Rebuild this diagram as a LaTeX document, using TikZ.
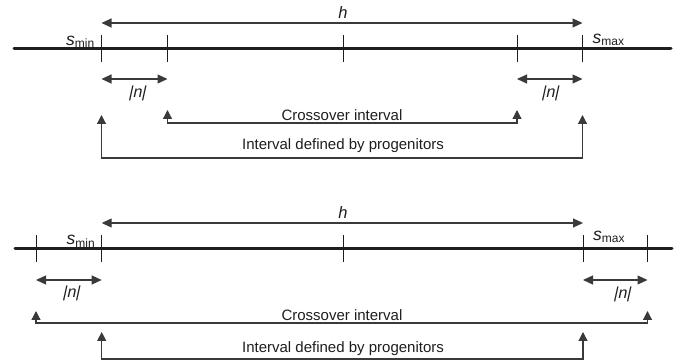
\documentclass[tikz,border=0pt]{standalone}
\usepackage{fontspec}
\setmainfont{Liberation Sans}
\newfontfamily\obliquesans[FakeSlant=0.22]{Liberation Sans}
\usetikzlibrary{arrows.meta}
\definecolor{ink}{HTML}{1E1E1E}
\definecolor{thin}{HTML}{3A3A3A}
\newcommand{\svar}[1]{{\fontsize{17.5}{20}\selectfont\itshape s}\raisebox{-2.5pt}{\fontsize{12}{14}\selectfont #1}}
\newcommand{\absn}{{\obliquesans|n|}}
\begin{document}
\begin{tikzpicture}[x=1pt,y=-1pt,
  axis/.style={line width=3pt, draw=ink, line cap=round},
  tickmark/.style={line width=0.9pt, draw=ink},
  dim/.style={line width=1.2pt, draw=thin, {Triangle[length=10pt,width=9pt]}-{Triangle[length=10pt,width=9pt]}},
  bracket/.style={line width=1.2pt, draw=thin, {Triangle[length=9pt,width=9pt]}-{Triangle[length=9pt,width=9pt]}},
  lbl/.style={inner sep=0pt, text=ink, font=\fontsize{15}{18}\selectfont},
  ilbl/.style={inner sep=0pt, text=ink, font=\fontsize{16.5}{18}\selectfont\itshape},
  nlbl/.style={inner sep=0pt, text=ink, font=\fontsize{16}{18}\selectfont}]
\useasboundingbox (0,0) rectangle (678,363);

% ---------- top panel ----------
\coordinate (Aa) at (14,49);
\coordinate (Ab) at (671,49);
\draw[axis] (Aa) -- (Ab);
\foreach \n/\x in {t1/101.5,t2/167.5,t3/343,t4/517,t5/582.5}{
  \coordinate (\n) at (\x,49);
  \draw[tickmark] ([yshift=14pt]\n) -- ([yshift=-13pt]\n);
}
\coordinate (hL) at (101.5,23);
\coordinate (hR) at (582.5,23);
\draw[dim] (hL) -- (hR);
\node[ilbl, anchor=base] (hlab) at (343,19) {h};
\node[lbl, anchor=base east] (smin1) at (94.5,45.5) {\svar{min}};
\node[lbl, anchor=base west] (smax1) at (592.5,43.5) {\svar{max}};

\coordinate (n1a) at (101.5,79);
\coordinate (n1b) at (167.5,79);
\draw[dim] (n1a) -- (n1b);
\node[nlbl] (nl1) at (137,93) {\absn};
\coordinate (n2a) at (517,79);
\coordinate (n2b) at (582.5,79);
\draw[dim] (n2a) -- (n2b);
\node[nlbl] (nl2) at (550,93) {\absn};

\coordinate (c1a) at (167.5,110);
\coordinate (c1b) at (167.5,123);
\coordinate (c1c) at (517,123);
\coordinate (c1d) at (517,110);
\draw[bracket] (c1a) -- (c1b) -- (c1c) -- (c1d);
\node[lbl, anchor=base] (cross1) at (342,120.5) {Crossover interval};

\coordinate (p1a) at (101.5,115);
\coordinate (p1b) at (101.5,158);
\coordinate (p1c) at (582.5,158);
\coordinate (p1d) at (582.5,115);
\draw[bracket] (p1a) -- (p1b) -- (p1c) -- (p1d);
\node[lbl, anchor=base] (prog1) at (343,149.5) {Interval defined by progenitors};

% ---------- bottom panel ----------
\coordinate (Ba) at (15,249);
\coordinate (Bb) at (672,249);
\draw[axis] (Ba) -- (Bb);
\foreach \n/\x in {u1/36,u2/101.7,u3/343,u4/583,u5/647.5}{
  \coordinate (\n) at (\x,249);
  \draw[tickmark] ([yshift=14pt]\n) -- ([yshift=-13pt]\n);
}
\coordinate (gL) at (101.7,223);
\coordinate (gR) at (583,223);
\draw[dim] (gL) -- (gR);
\node[ilbl, anchor=base] (hlab2) at (343,219) {h};
\node[lbl, anchor=base east] (smin2) at (95,245) {\svar{min}};
\node[lbl, anchor=base west] (smax2) at (593,240.5) {\svar{max}};

\coordinate (m1a) at (36,280);
\coordinate (m1b) at (101.7,280);
\draw[dim] (m1a) -- (m1b);
\node[nlbl] (ml1) at (71,293.5) {\absn};
\coordinate (m2a) at (583,280);
\coordinate (m2b) at (647.5,280);
\draw[dim] (m2a) -- (m2b);
\node[nlbl] (ml2) at (622,294) {\absn};

\coordinate (c2a) at (36,311);
\coordinate (c2b) at (36,323);
\coordinate (c2c) at (647.5,323);
\coordinate (c2d) at (647.5,311);
\draw[bracket] (c2a) -- (c2b) -- (c2c) -- (c2d);
\node[lbl, anchor=base] (cross2) at (342,321) {Crossover interval};

\coordinate (p2a) at (101.7,332);
\coordinate (p2b) at (101.7,359);
\coordinate (p2c) at (583,359);
\coordinate (p2d) at (583,332);
\draw[bracket] (p2a) -- (p2b) -- (p2c) -- (p2d);
\node[lbl, anchor=base] (prog2) at (343,352.5) {Interval defined by progenitors};
\end{tikzpicture}
\end{document}
